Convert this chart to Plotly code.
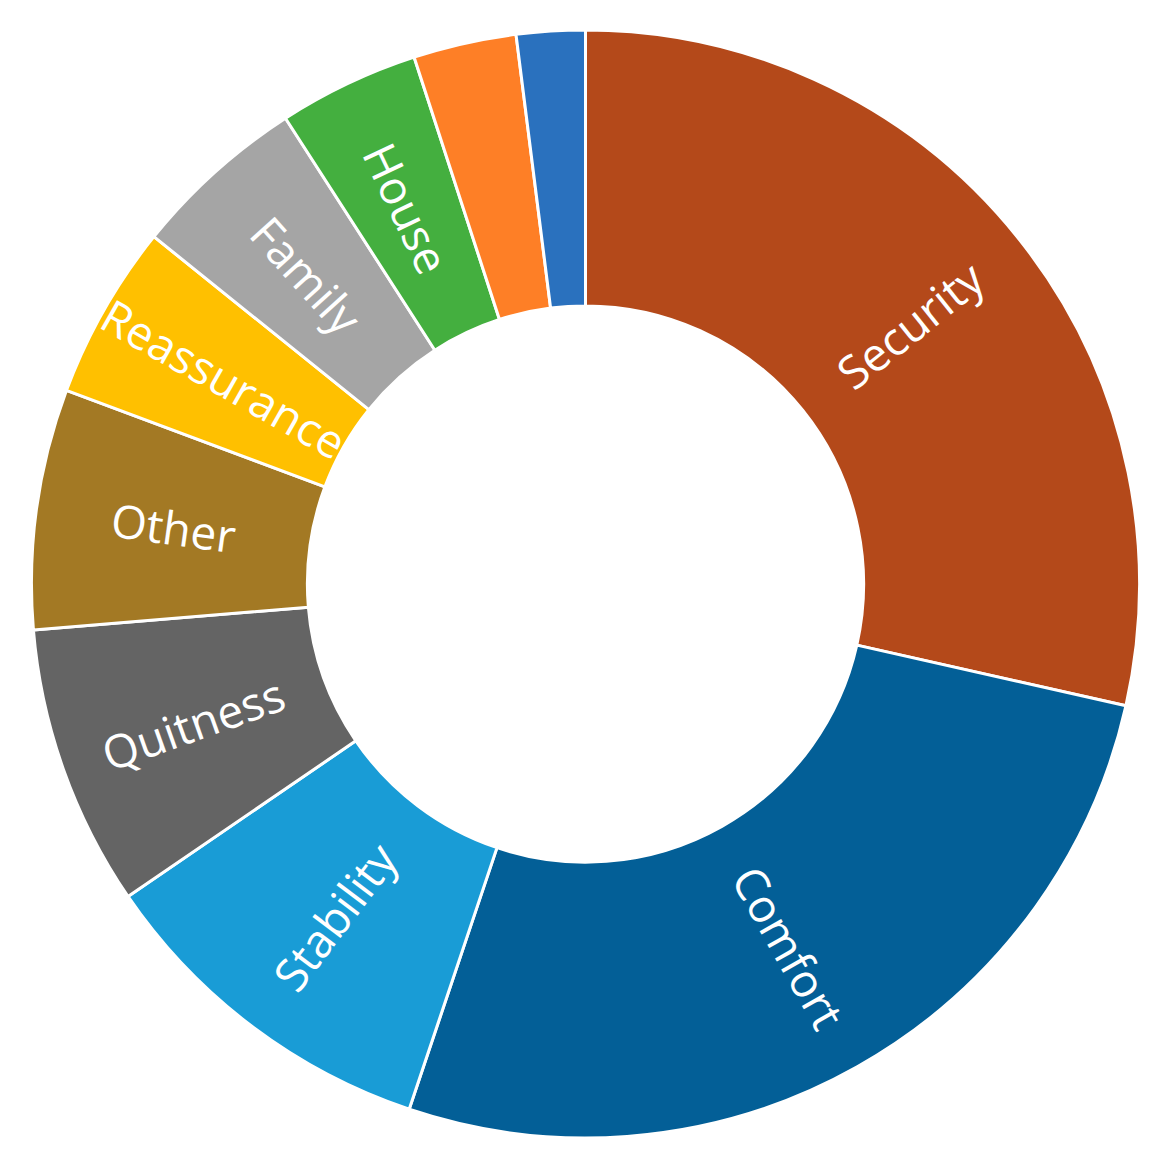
import numpy as np
import plotly.graph_objects as go

## data (share of answers, clockwise from 12 o'clock)
labels = ["Security", "Comfort", "Stability", "Quitness", "Other",
          "Reassurance", "Family", "House", "Money", "Work"]
values = [28.5, 26.6, 10.3, 8.2, 7.0, 5.1, 5.1, 4.1, 3.0, 2.0]
shown_text = ["Security", "Comfort", "Stability", "Quitness", "Other",
              "Reassurance", "Family", "House", "", ""]
colors = ["#B4491A", "#035F97", "#199CD6", "#646464", "#A37924",
          "#FFC000", "#A5A5A5", "#44AF3F", "#FE7F26", "#2A71BE"]

## figure geometry (pixels)
W, H = 1155, 1140
m_t, m_b = 22, 10
hole = 0.502
plot_w = W
plot_h = H - m_t - m_b
R_out = min(plot_w, plot_h) / 2
R_mid = R_out * (1 + hole) / 2

fig = go.Figure()
fig.add_trace(go.Pie(labels=labels, values=values,
                     textinfo="none",
                     hole=hole,
                     sort=False,
                     direction="clockwise",
                     rotation=0,
                     marker=dict(colors=colors,
                                 line=dict(color="#FFFFFF", width=3)),
                     showlegend=False,
                    ))

## radial labels, placed at the middle of each slice of the ring
vals = np.array(values, dtype=float)
ends = np.cumsum(vals) / vals.sum() * 360
mids = ends - vals / vals.sum() * 180
for txt, th in zip(shown_text, mids):
    if not txt:
        continue
    rad = np.deg2rad(th)
    ang = th - 90
    if ang > 90:
        ang -= 180
    fig.add_annotation(x=0.5 + R_mid * np.sin(rad) / plot_w,
                       y=0.5 + R_mid * np.cos(rad) / plot_h,
                       xref="paper", yref="paper",
                       xanchor="center", yanchor="middle",
                       text=txt, textangle=ang,
                       showarrow=False,
                       font=dict(family="Open Sans", size=46, color="#FFFFFF"),
                      )

## Update figure layout
fig.update_layout(width=W, height=H,
                  margin=dict(l=0, r=0, t=m_t, b=m_b),
                  paper_bgcolor="#FFFFFF",
                  plot_bgcolor="#FFFFFF",
                 )

fig.write_html("out.html")
